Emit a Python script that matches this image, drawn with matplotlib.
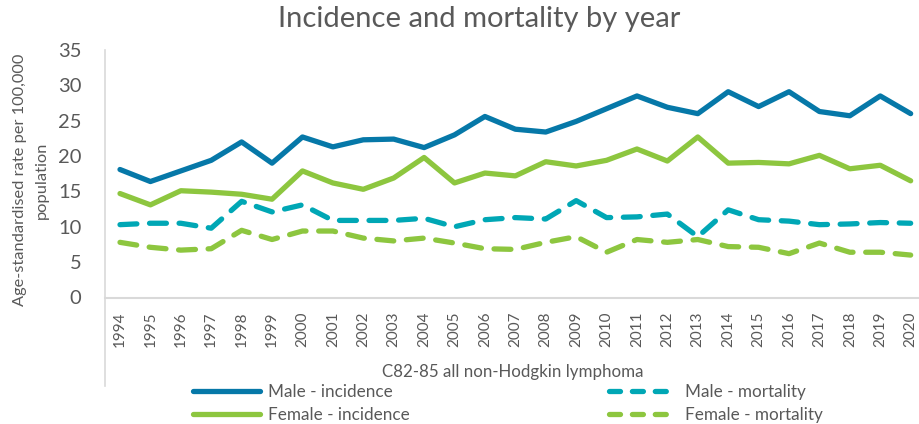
import matplotlib
matplotlib.use("Agg")
import matplotlib.pyplot as plt
from matplotlib.lines import Line2D

plt.rcParams['font.family'] = ['Lato', 'DejaVu Sans']

years = [str(y) for y in range(1994, 2021)]
male_incidence = [18.1, 16.4, 17.9, 19.4, 22.0, 19.0, 22.7, 21.3, 22.3, 22.4, 21.2, 23.0, 25.6,
                  23.8, 23.4, 24.9, 26.7, 28.5, 26.9, 26.0, 29.1, 27.0, 29.1, 26.3, 25.7, 28.5, 26.0]
female_incidence = [14.7, 13.1, 15.1, 14.9, 14.6, 13.9, 17.9, 16.2, 15.3, 16.9, 19.8, 16.2, 17.6,
                    17.2, 19.2, 18.6, 19.4, 21.0, 19.3, 22.7, 19.0, 19.1, 18.9, 20.1, 18.2, 18.7, 16.5]
male_mortality = [10.3, 10.5, 10.5, 9.8, 13.6, 12.1, 13.1, 10.9, 10.9, 10.9, 11.2, 10.0, 11.0,
                  11.3, 11.1, 13.7, 11.3, 11.4, 11.8, 8.6, 12.4, 11.0, 10.8, 10.3, 10.4, 10.6, 10.5]
female_mortality = [7.8, 7.1, 6.7, 6.9, 9.5, 8.2, 9.4, 9.4, 8.4, 8.0, 8.4, 7.7, 6.9,
                    6.8, 7.8, 8.6, 6.4, 8.2, 7.8, 8.2, 7.2, 7.1, 6.2, 7.7, 6.4, 6.4, 6.0]
yticks = [0, 5, 10, 15, 20, 25, 30, 35]

c_dark = '#0678A8'
c_green = '#8DC63F'
c_teal = '#00A7B5'
c_text = '#595959'
c_axis = '#D9D9D9'

W, H = 919, 424
fig = plt.figure(figsize=(W / 100, H / 100), dpi=100)
left_px, right_px, top_px, bot_px = 105, 919, 50, 297.5
ax = fig.add_axes([left_px / W, 1 - bot_px / H, (right_px - left_px) / W, (bot_px - top_px) / H])

x = list(range(len(years)))
lw = 3.8
dash = (3.2, 2.4)
ax.plot(x, male_incidence, color=c_dark, lw=lw, solid_capstyle='round', solid_joinstyle='round',
        clip_on=False)
ax.plot(x, female_incidence, color=c_green, lw=lw, solid_capstyle='round', solid_joinstyle='round',
        clip_on=False)
ax.plot(x, male_mortality, color=c_teal, lw=lw, dashes=dash, dash_capstyle='round',
        dash_joinstyle='round', clip_on=False)
ax.plot(x, female_mortality, color=c_green, lw=lw, dashes=dash, dash_capstyle='round',
        dash_joinstyle='round', clip_on=False)

spacing = 30.41
x0_px = 120
ax.set_xlim((left_px - x0_px) / spacing, (right_px - x0_px) / spacing)
ax.set_ylim(0, 35)
ax.set_yticks(yticks)
ax.set_yticklabels([str(v) for v in yticks], fontsize=14.5, color=c_text)
ax.set_xticks(x)
ax.set_xticklabels(years, rotation=90, fontsize=11, color=c_text)
ax.tick_params(axis='both', length=0)
ax.tick_params(axis='y', pad=17)
ax.tick_params(axis='x', pad=10)

for s in ['top', 'right']:
    ax.spines[s].set_visible(False)
ax.spines['left'].set_color(c_axis)
ax.spines['bottom'].set_color(c_axis)
ax.spines['left'].set_linewidth(1.2)
ax.spines['bottom'].set_linewidth(1.5)
# extend the left axis line down through the category labels
fig.add_artist(Line2D([left_px / W, left_px / W], [1 - bot_px / H, 1 - 386 / H],
                      color=c_axis, lw=1.2, transform=fig.transFigure))

# y-axis title
fig.text(31 / W, 1 - 180 / H, 'Age-standardised rate per 100,000\npopulation', rotation=90,
         ha='center', va='center', multialignment='center', fontsize=11.8, color=c_text,
         linespacing=1.7)

fig.text(479 / W, 1 - 19 / H, 'Incidence and mortality by year', ha='center', va='center',
         fontsize=21, color=c_text)
fig.text(513 / W, 1 - 372 / H, 'C82-85 all non-Hodgkin lymphoma', ha='center', va='center',
         fontsize=12.2, color=c_text)

# legend proxies (style only)
lpx = lw * 100 / 72
ldash = (11.0 / lpx, 11.9 / lpx)
h1 = Line2D([], [], color=c_dark, lw=lw, solid_capstyle='round')
h2 = Line2D([], [], color=c_green, lw=lw, solid_capstyle='round')
h3 = Line2D([], [], color=c_teal, lw=lw, dashes=ldash, dash_capstyle='round')
h4 = Line2D([], [], color=c_green, lw=lw, dashes=ldash, dash_capstyle='round')
labels = ['Male - incidence', 'Female - incidence', 'Male - mortality', 'Female - mortality']
fs = 12.3
fpx = fs * 100 / 72
leg = fig.legend(handles=[h1, h2, h3, h4], labels=labels, ncol=2, loc='upper left',
                 bbox_to_anchor=(192.6 / W, 1 - 384 / H), frameon=False, fontsize=fs,
                 handlelength=67 / fpx, handletextpad=8.6 / fpx, columnspacing=199.4 / fpx,
                 labelspacing=0.42, borderaxespad=0, borderpad=0)
for t in leg.get_texts():
    t.set_color(c_text)

fig.savefig('out.png', dpi=100)
